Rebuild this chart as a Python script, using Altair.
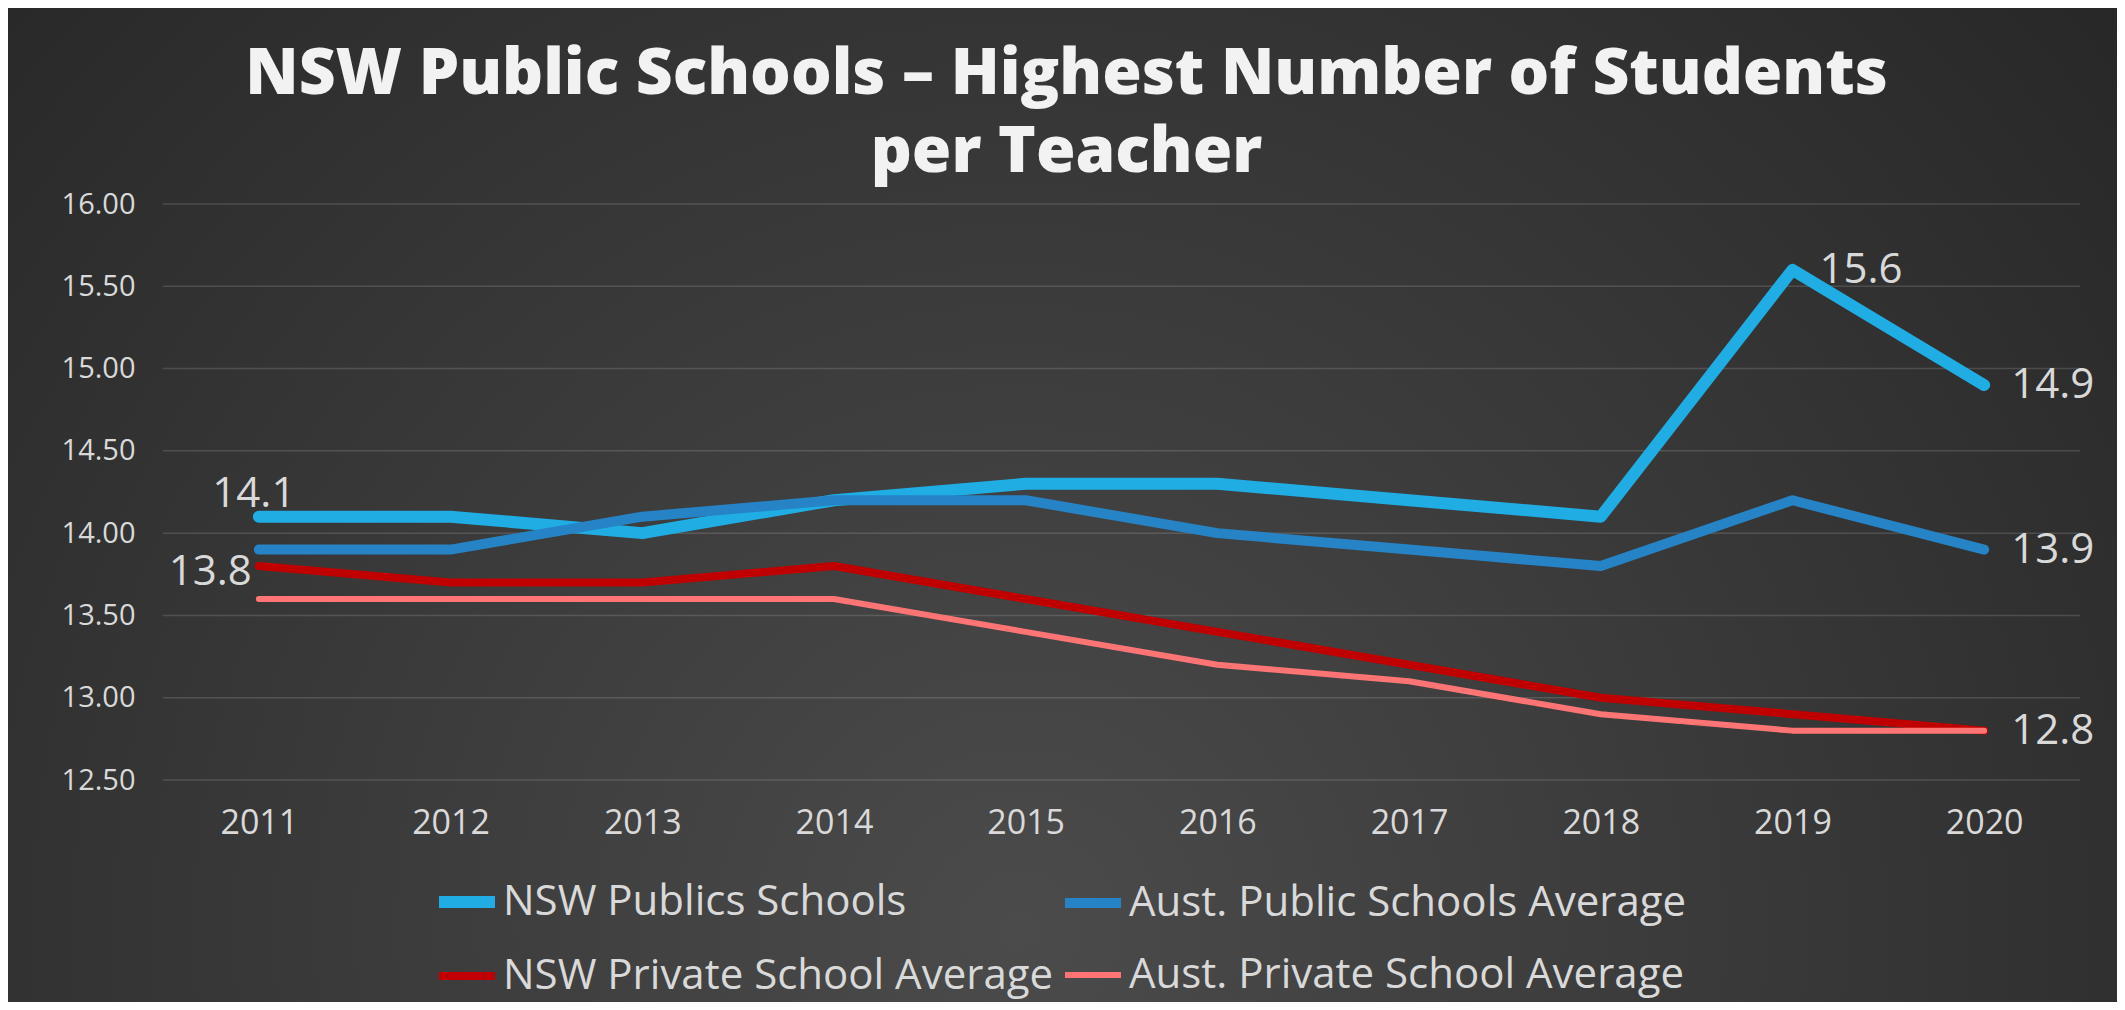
import altair as alt
import pandas as pd

# ---------------- data ----------------
years = ["2011", "2012", "2013", "2014", "2015", "2016", "2017", "2018", "2019", "2020"]
series_names = [
    "NSW Publics Schools",
    "Aust. Public Schools Average",
    "NSW Private School Average",
    "Aust. Private School Average",
]
nsw_public = [14.1, 14.1, 14.0, 14.2, 14.3, 14.3, 14.2, 14.1, 15.6, 14.9]
aus_public = [13.9, 13.9, 14.1, 14.2, 14.2, 14.0, 13.9, 13.8, 14.2, 13.9]
nsw_private = [13.8, 13.7, 13.7, 13.8, 13.6, 13.4, 13.2, 13.0, 12.9, 12.8]
aus_private = [13.6, 13.6, 13.6, 13.6, 13.4, 13.2, 13.1, 12.9, 12.8, 12.8]
y_ticks = [12.5, 13.0, 13.5, 14.0, 14.5, 15.0, 15.5, 16.0]

title_lines = ["NSW Public Schools \u2013 Highest Number of Students", "per Teacher"]

# ---------------- styles ----------------
colors = ["#1FADE4", "#2683C6", "#C00000", "#FF7575"]
widths = [12, 6, 12, 6]
FONT = "Open Sans"
TXT = "#D9D9D9"

W, H = 1917, 576
PL, PT, PR, PB = 155, 196, 37, 222

rows = []
for name, vals in zip(series_names, [nsw_public, aus_public, nsw_private, aus_private]):
    for y, v in zip(years, vals):
        rows.append({"series": name, "year": y, "value": v})
df = pd.DataFrame(rows)
ticks_df = pd.DataFrame({"value": y_ticks})

x_enc = alt.X(
    "year:O",
    scale=alt.Scale(type="point", padding=0.5, domain=years),
    axis=alt.Axis(
        title=None, labelAngle=0, domain=False, ticks=False, tickSize=0, grid=False,
        labelFont=FONT, labelFontSize=34, labelColor=TXT, labelPadding=26, zindex=1,
    ),
)
y_scale = alt.Scale(domain=[12.5, 16.0], nice=False, zero=False)
y_axis = alt.Axis(
    title=None, values=y_ticks, format=".2f", domain=False, ticks=False, tickSize=0,
    grid=False, labelFont=FONT, labelFontSize=29, labelColor=TXT, labelPadding=28,
    zindex=1,
)
y_enc = alt.Y("value:Q", scale=y_scale, axis=y_axis)

legend = alt.Legend(
    title=None, orient="none", legendX=270, legendY=664, columns=2, direction="horizontal",
    symbolType="stroke", symbolSize=3136, labelFont=FONT, labelFontSize=42,
    labelColor=TXT, labelLimit=0, labelOffset=2, columnPadding=-9, rowPadding=18,
    padding=0, labelBaseline="middle",
)
color_enc = alt.Color("series:N", scale=alt.Scale(domain=series_names, range=colors), legend=legend)
width_enc = alt.StrokeWidth("series:N", scale=alt.Scale(domain=series_names, range=widths), legend=legend)

# background (radial gradient)
bg = alt.Chart(pd.DataFrame({"a": [0]})).mark_rect(
    fill={
        "gradient": "radial",
        "x1": 0.48, "y1": 0.7, "r1": 0,
        "x2": 0.48, "y2": 0.7, "r2": 0.78,
        "stops": [
            {"offset": 0, "color": "#4b4b4b"},
            {"offset": 1, "color": "#222222"},
        ],
    }
).encode(
    x=alt.value(-PL - 5), x2=alt.value(W + PR + 5),
    y=alt.value(-PT - 5), y2=alt.value(H + PB + 5),
)

grid = alt.Chart(ticks_df).mark_rule(color="#FFFFFF", opacity=0.14, strokeWidth=1.5).encode(
    y=y_enc
)

base = alt.Chart(df)
line_layers = []
for name in series_names:
    line_layers.append(
        base.transform_filter(alt.datum.series == name)
        .mark_line(strokeCap="round", strokeJoin="round")
        .encode(x=x_enc, y=y_enc, color=color_enc, strokeWidth=width_enc)
    )

text_style = dict(font=FONT, fontSize=42, color=TXT)
labels_right = base.transform_filter(
    "(datum.series == 'NSW Publics Schools' && datum.year == '2019') || "
    "(datum.year == '2020' && datum.series != 'Aust. Private School Average')"
).mark_text(align="left", baseline="middle", dx=27, **text_style).encode(
    x="year:O", y="value:Q", text=alt.Text("value:Q", format=".1f")
)
label_above = base.transform_filter(
    "datum.series == 'NSW Publics Schools' && datum.year == '2011'"
).mark_text(align="center", baseline="alphabetic", dx=-5, dy=-10, **text_style).encode(
    x="year:O", y="value:Q", text=alt.Text("value:Q", format=".1f")
)
label_left = base.transform_filter(
    "datum.series == 'NSW Private School Average' && datum.year == '2011'"
).mark_text(align="right", baseline="middle", dx=-7, dy=6, **text_style).encode(
    x="year:O", y="value:Q", text=alt.Text("value:Q", format=".1f")
)

chart = alt.layer(bg, grid, *line_layers, labels_right, label_above, label_left).properties(
    width=W,
    height=H,
    autosize=alt.AutoSizeParams(type="none"),
    padding={"left": PL, "top": PT, "right": PR, "bottom": PB},
    background="#2b2b2b",
    title=alt.TitleParams(
        text=title_lines, font=FONT, fontSize=64, fontWeight=800, color="#F2F2F2",
        anchor="middle", frame="group", dx=-55, baseline="bottom", lineHeight=78,
        offset=-246, zindex=1,
    ),
).configure_view(stroke=None)

chart.save("out.html", embed_options={"renderer": "svg", "actions": False})
